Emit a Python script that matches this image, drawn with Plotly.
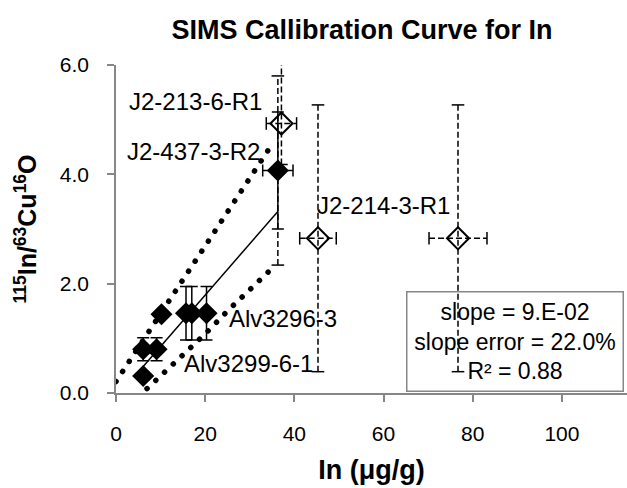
import plotly.graph_objects as go

# ---- samples used in the fit (filled diamonds, solid error bars) ----
fit_x = [6.1, 6.1, 9.1, 10.2, 15.7, 17.0, 20.3, 36.3]
fit_y = [0.31, 0.80, 0.80, 1.44, 1.46, 1.46, 1.46, 4.07]
fit_xerr = [0, 0, 0, 0, 0, 0, 0, 3.4]
fit_yerr = [0, 0.21, 0.21, 0, 0.49, 0.49, 0.49, 1.07]

# ---- samples left out of the fit (open diamonds, dashed error bars) ----
out_x = [37.1, 45.3, 76.7]
out_y = [4.93, 2.83, 2.83]
out_xerr = [3.4, 4.1, 6.5]
out_yerr_plus = [1.60, 2.44, 2.44]
out_yerr_minus = [0.75, 2.44, 2.44]

# total uncertainty of the high fitted sample (dashed)
tot_x = [36.3]
tot_y = [4.07]
tot_yerr = [1.73]

# ---- regression and its confidence bands ----
slope = 0.094
intercept = -0.09
slope_err_pct = 22.0
r_squared = 0.88

band_hi_x = [0, 7, 14, 21, 28, 35]
band_hi_y = [0.21, 1.08, 1.96, 2.82, 3.68, 4.55]
band_lo_x = [5, 10, 15, 20, 25, 30, 35]
band_lo_y = [-0.07, 0.31, 0.68, 1.08, 1.50, 1.88, 2.28]

# ---- point labels ----
label_text = ["J2-213-6-R1", "J2-437-3-R2", "J2-214-3-R1", "Alv3296-3", "Alv3299-6-1"]
label_x = [37.1, 36.3, 45.3, 20.3, 9.1]
label_y = [4.93, 4.07, 2.83, 1.46, 0.80]

x_ticks = [0, 20, 40, 60, 80, 100]
y_ticks = [0.0, 2.0, 4.0, 6.0]

FONT = "Liberation Sans, Arial, sans-serif"
AXIS_GREY = "#878787"

fig = go.Figure()

# confidence bands (round dotted)
fig.add_trace(go.Scatter(x=band_hi_x, y=band_hi_y, mode="lines", uid="bandhi",
                         line=dict(color="black", width=5.5, dash="0.1px,11.9px"),
                         hoverinfo="skip"))
fig.add_trace(go.Scatter(x=band_lo_x, y=band_lo_y, mode="lines", uid="bandlo",
                         line=dict(color="black", width=5.5, dash="0.1px,11.9px"),
                         hoverinfo="skip"))

# regression line across the fitted range
x0, x1 = min(fit_x), max(fit_x)
fig.add_trace(go.Scatter(x=[x0, x1], y=[intercept + slope * x0, intercept + slope * x1],
                         mode="lines", line=dict(color="black", width=1.5),
                         hoverinfo="skip"))

# dashed error bars built as line segments
vx, vy, hx, hy = [], [], [], []
vcap_x, vcap_y, hcap_x, hcap_y = [], [], [], []
for x, y, xe, yp, ym in zip(out_x + tot_x, out_y + tot_y,
                            out_xerr + [0] * len(tot_x),
                            out_yerr_plus + tot_yerr,
                            out_yerr_minus + tot_yerr):
    vx += [x, x, None]
    vy += [y - ym, y + yp, None]
    vcap_x += [x, x]
    vcap_y += [y - ym, y + yp]
    if xe:
        hx += [x - xe, x + xe, None]
        hy += [y, y, None]
        hcap_x += [x - xe, x + xe]
        hcap_y += [y, y]

dash_line = dict(color="black", width=1.5, dash="6px,3px")
fig.add_trace(go.Scatter(x=vx, y=vy, mode="lines", line=dash_line, hoverinfo="skip"))
fig.add_trace(go.Scatter(x=hx, y=hy, mode="lines", line=dash_line, hoverinfo="skip"))
fig.add_trace(go.Scatter(x=vcap_x, y=vcap_y, mode="markers", hoverinfo="skip",
                         marker=dict(symbol="line-ew", size=9,
                                     line=dict(color="black", width=1.5))))
fig.add_trace(go.Scatter(x=hcap_x, y=hcap_y, mode="markers", hoverinfo="skip",
                         marker=dict(symbol="line-ns", size=9,
                                     line=dict(color="black", width=1.5))))

# open diamonds
fig.add_trace(go.Scatter(x=out_x, y=out_y, mode="markers",
                         marker=dict(symbol="diamond-open", size=17, color="black",
                                     line=dict(color="black", width=2))))

# filled diamonds with solid error bars
fig.add_trace(go.Scatter(
    x=fit_x, y=fit_y, mode="markers",
    marker=dict(symbol="diamond", size=17, color="black"),
    error_x=dict(type="data", array=fit_xerr, color="black", thickness=1.5, width=6),
    error_y=dict(type="data", array=fit_yerr, color="black", thickness=1.5, width=6),
))

# point labels
label_style = [
    dict(xanchor="right", xshift=-17, yshift=22),
    dict(xanchor="right", xshift=-16, yshift=19),
    dict(xanchor="left", xshift=-3, yshift=33),
    dict(xanchor="left", xshift=20, yshift=-5),
    dict(xanchor="left", xshift=25, yshift=-14),
]
for t, x, y, st in zip(label_text, label_x, label_y, label_style):
    fig.add_annotation(x=x, y=y, text=t, showarrow=False, yanchor="middle",
                       font=dict(size=24, family=FONT, color="black"), **st)

# statistics box
stats = (f"slope = {slope:#.0E}<br>slope error = {slope_err_pct:.1f}%"
         f"<br>R² = {r_squared:.2f}")
fig.add_annotation(xref="paper", yref="paper", x=0.78, y=0.158,
                   xanchor="center", yanchor="middle", text=stats, showarrow=False,
                   width=215, height=98, align="center", borderpad=0,
                   bordercolor=AXIS_GREY, borderwidth=1.5, bgcolor="rgba(0,0,0,0)",
                   font=dict(size=23, family=FONT, color="black"))

fig.update_layout(
    width=627, height=488,
    margin=dict(l=116, r=0, t=65, b=95),
    paper_bgcolor="white", plot_bgcolor="white",
    showlegend=False,
    font=dict(family=FONT, color="black"),
    title=dict(text="<b>SIMS Callibration Curve for In</b>", x=362 / 627,
               xref="container", xanchor="center", y=1 - 30 / 488,
               yref="container", yanchor="middle",
               font=dict(size=27, family=FONT, color="black")),
    xaxis=dict(range=[0, 114.6], tickvals=x_ticks, showline=True,
               linecolor=AXIS_GREY, linewidth=1.5, ticks="outside", ticklen=7,
               tickwidth=1.5, tickcolor=AXIS_GREY, showgrid=False, zeroline=False,
               tickfont=dict(size=21), ticklabelstandoff=14,
               title=dict(text="<b>In (μg/g)</b>", font=dict(size=27), standoff=16)),
    yaxis=dict(range=[0, 6], tickvals=y_ticks, tickformat=".1f", showline=True,
               linecolor=AXIS_GREY, linewidth=1.5, ticks="outside", ticklen=7,
               tickwidth=1.5, tickcolor=AXIS_GREY, showgrid=False, zeroline=False,
               tickfont=dict(size=21), ticklabelstandoff=14,
               title=dict(text="<b><sup>115</sup>In/<sup>63</sup>Cu<sup>16</sup>O</b>",
                          font=dict(size=25), standoff=16)),
)

round_dots = """
document.querySelectorAll('.tracebandhi .js-line, .tracebandlo .js-line')
  .forEach(function (p) { p.style.strokeLinecap = 'round'; });
"""
fig.write_html("out.html", post_script=round_dots)
